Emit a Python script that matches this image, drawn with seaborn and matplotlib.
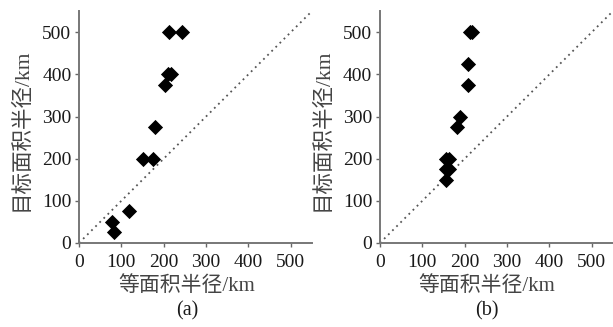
import numpy as np
import pandas as pd
import matplotlib
matplotlib.use('Agg')
import matplotlib.pyplot as plt
import seaborn as sns

# panel (a)
a_equal_r = [77, 83, 118, 151, 174, 180, 203, 210, 218, 212, 242]
a_target_r = [50, 25, 75, 200, 200, 275, 375, 400, 400, 500, 500]

# panel (b)
b_equal_r = [155, 155, 162, 155, 162, 182, 189, 208, 208, 212, 218]
b_target_r = [150, 175, 175, 200, 200, 275, 300, 375, 425, 500, 500]

ticks = [0, 100, 200, 300, 400, 500]
xlabel = '等面积半径/km'
ylabel = '目标面积半径/km'
panel_tags = ['(a)', '(b)']

sns.set_style('white')
fonts = ['Liberation Serif', 'Noto Sans CJK SC']
plt.rcParams['font.family'] = fonts

fig = plt.figure(figsize=(6.13, 3.27), dpi=100)
ax_a = fig.add_axes([0.1289, 0.257, 0.380, 0.709])
ax_b = fig.add_axes([0.6199, 0.257, 0.380, 0.709])

panels = [
    (ax_a, a_equal_r, a_target_r, panel_tags[0], 0.464),
    (ax_b, b_equal_r, b_target_r, panel_tags[1], 0.46),
]

for ax, xs, ys, tag, xl_pos in panels:
    df = pd.DataFrame({'x': xs, 'y': ys})
    ax.plot([0, 550], [0, 550], linestyle=(0, (1, 2.2)), color='#555555', lw=1.3, zorder=1)
    sns.scatterplot(data=df, x='x', y='y', marker='D', s=60, color='black',
                    edgecolor='black', linewidth=0, ax=ax, zorder=3, clip_on=False)
    ax.set_xlim(0, 550)
    ax.set_ylim(0, 550)
    ax.set_xticks(ticks)
    ax.set_yticks(ticks)
    ax.tick_params(axis='both', direction='out', length=3, width=1, color='#666666',
                   labelsize=14, labelcolor='#1a1a1a', bottom=True, left=True)
    ax.tick_params(axis='x', pad=5)
    ax.tick_params(axis='y', pad=2.5)
    for side in ['top', 'right']:
        ax.spines[side].set_visible(False)
    for side in ['left', 'bottom']:
        ax.spines[side].set_color('#777777')
        ax.spines[side].set_linewidth(1.4)
    ax.set_xlabel(xlabel, fontsize=15, color='#444444', family=fonts, va='center')
    ax.set_ylabel(ylabel, fontsize=15.5, color='#444444', family=fonts, va='center')
    ax.xaxis.set_label_coords(xl_pos, -0.185)
    ax.yaxis.set_label_coords(-0.245, 0.49)
    pos = ax.get_position()
    fig.text(pos.x0 + xl_pos * (pos.x1 - pos.x0), 1 - 311 / 327, tag,
             ha='center', va='center', fontsize=14.5, color='#1a1a1a', family=fonts)

fig.savefig('out.png', dpi=100)
